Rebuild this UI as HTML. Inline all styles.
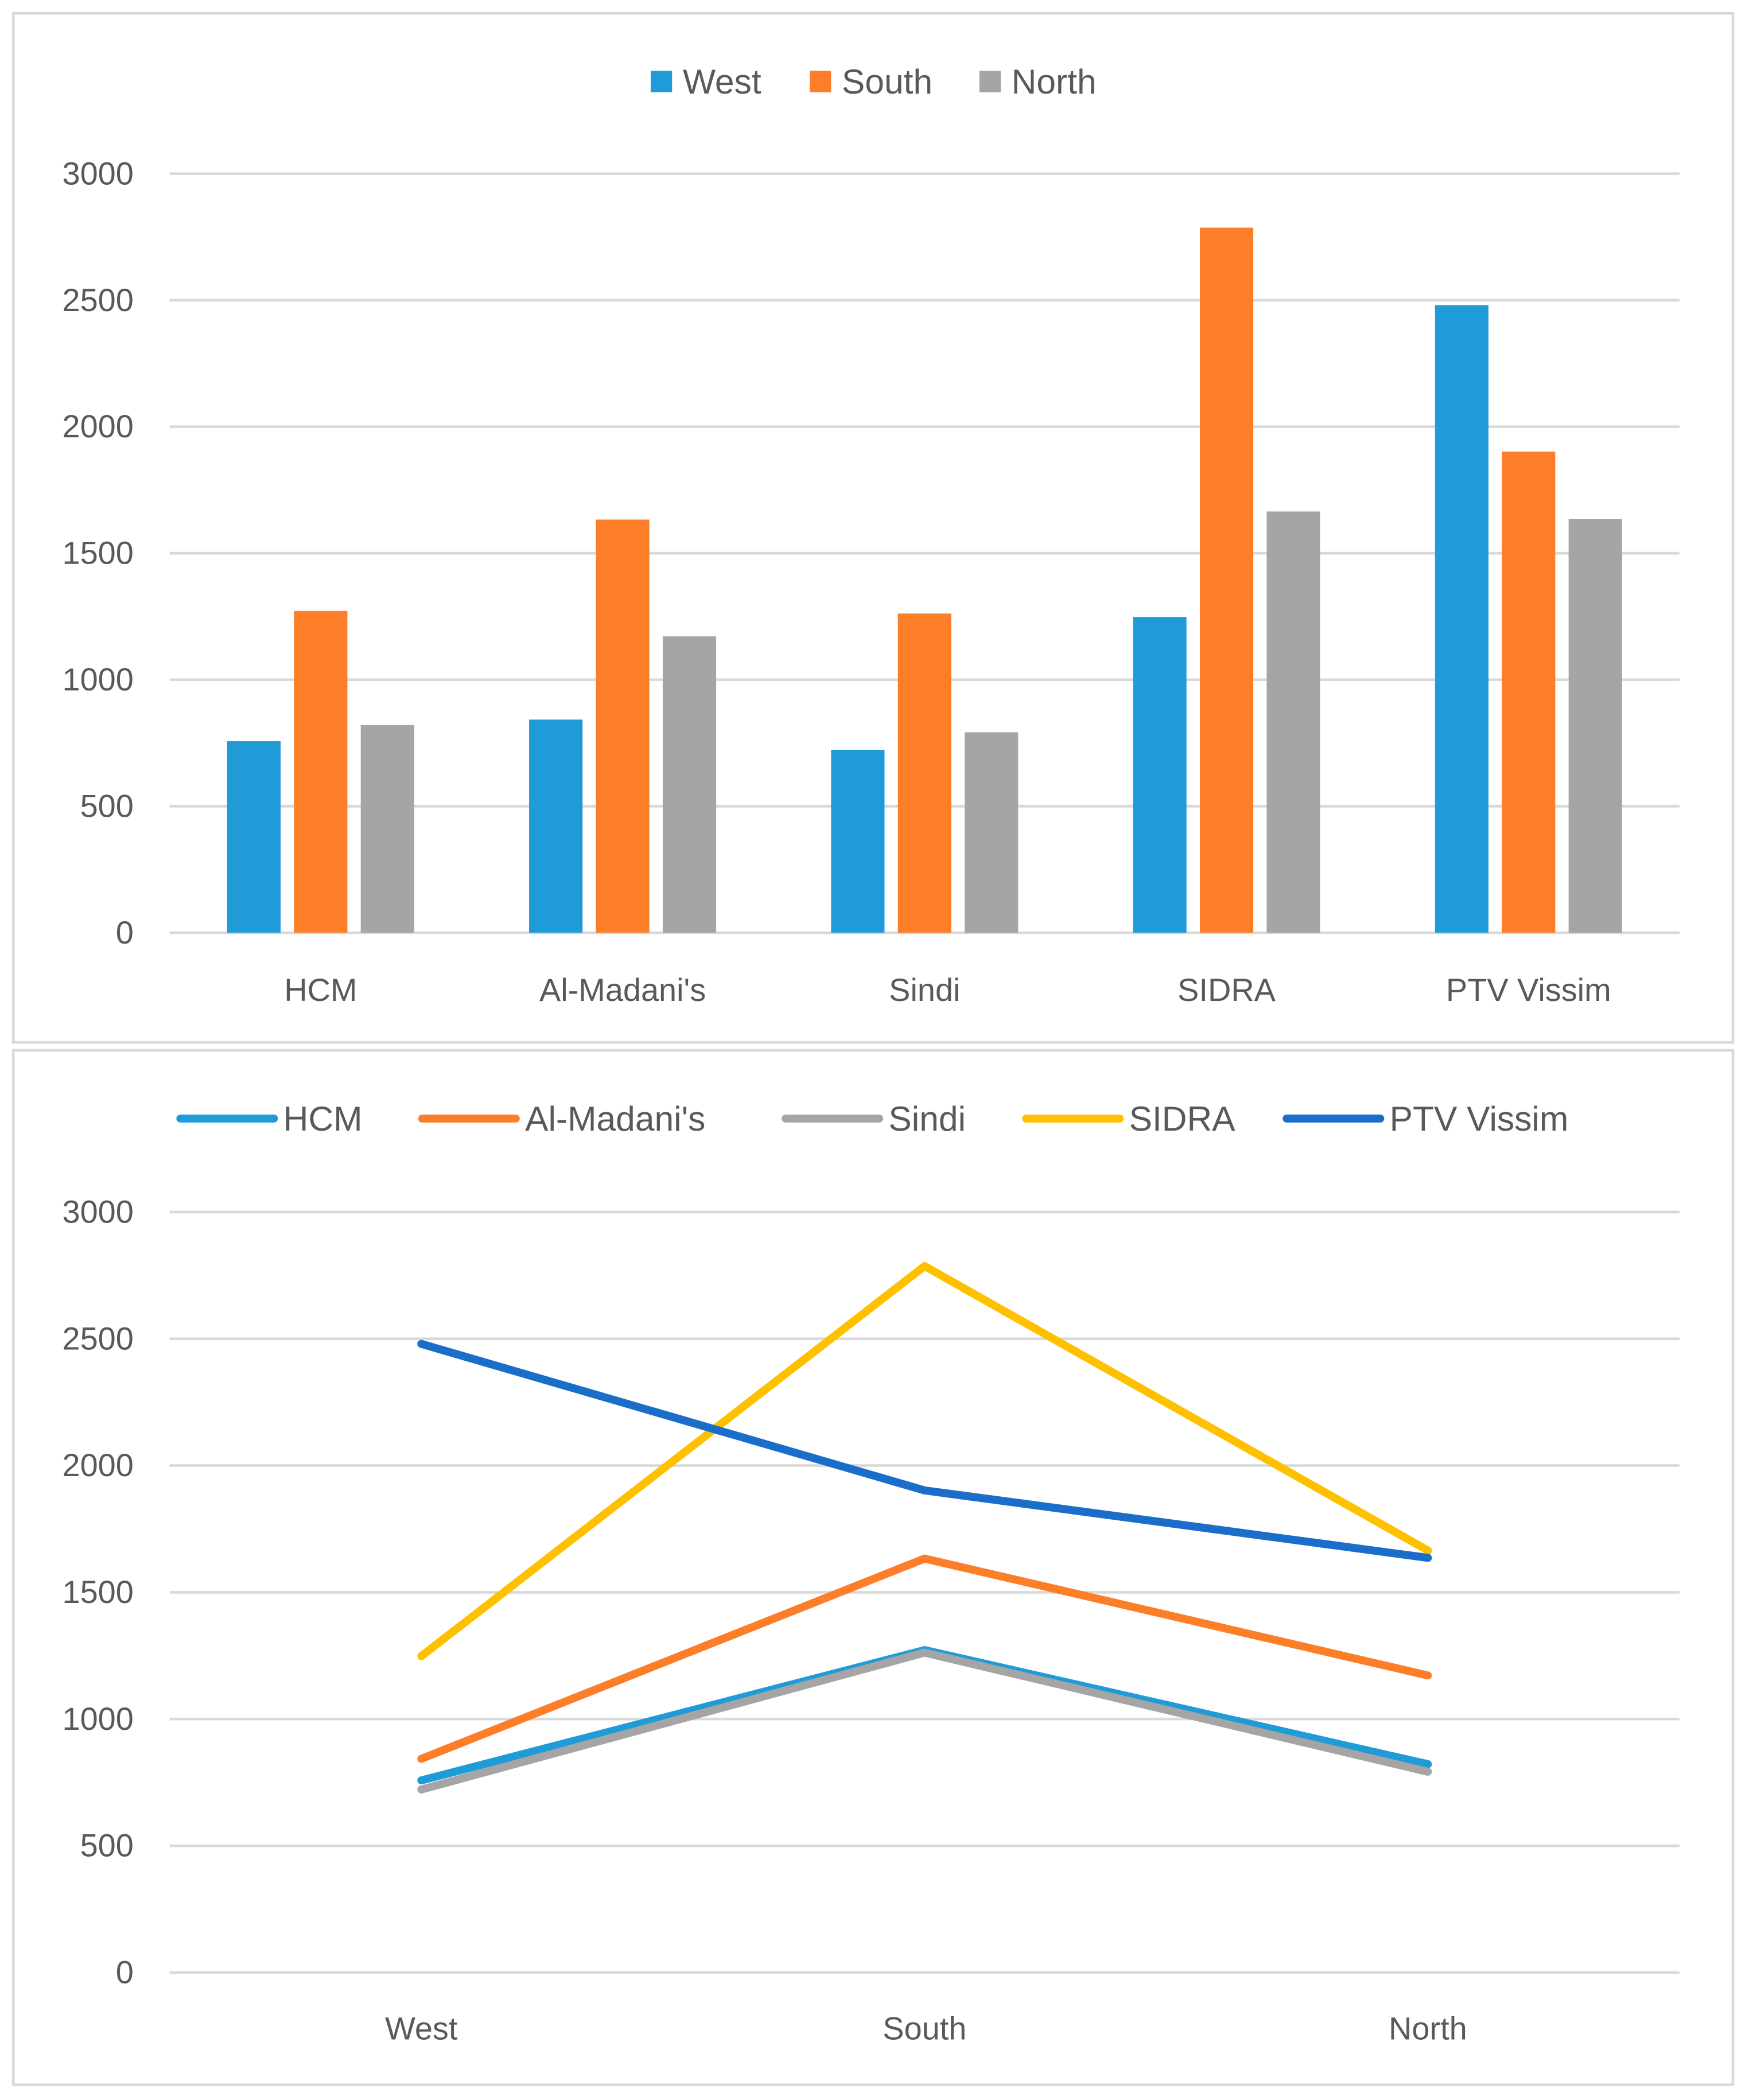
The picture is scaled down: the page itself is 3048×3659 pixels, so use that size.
<!DOCTYPE html>
<html><head><meta charset="utf-8"><style>
html,body{margin:0;padding:0;background:#fff}
svg{display:block}
text{font-family:"Liberation Sans",sans-serif;fill:#595959}
</style></head><body>
<svg id="svg" width="3048" height="3659" viewBox="0 0 1309 1571.4" preserveAspectRatio="none" xmlns="http://www.w3.org/2000/svg">
<rect x="10" y="10" width="1287" height="770" fill="#fff" stroke="#d9d9d9" stroke-width="2"/>
<rect x="10" y="786" width="1287" height="774" fill="#fff" stroke="#d9d9d9" stroke-width="2"/>
<g id="bar"></g><g id="line"></g>
</svg>
<script>
const methods = ["HCM","Al-Madani's","Sindi","SIDRA","PTV Vissim"];
const approaches = ["West","South","North"];
const westVals = [758,843,722,1248,2480];
const southVals = [1272,1633,1262,2787,1902];
const northVals = [822,1172,792,1665,1636];
const yTicks = [0,500,1000,1500,2000,2500,3000];
const barColors = ["#1f9bd7","#fd7e29","#a5a5a5"];
const lineColors = ["#1f9bd7","#fd7e29","#a5a5a5","#ffc000","#1a6ec9"];

const NS="http://www.w3.org/2000/svg";
function mk(parent,tag,attrs,txt){const e=document.createElementNS(NS,tag);for(const k in attrs)e.setAttribute(k,attrs[k]);if(txt!==undefined)e.textContent=txt;parent.appendChild(e);return e;}
const series=[westVals,southVals,northVals];
const x0=127,x1=1257;

// BAR CHART
const bg=document.getElementById('bar');
const yB=v=>698-(v/3000)*568;
yTicks.forEach(t=>{
  const l=mk(bg,'line',{x1:x0,x2:x1,y1:yB(t),y2:yB(t),stroke:'#d9d9d9','stroke-width':2});
  
  
  const tx=mk(bg,'text',{x:100,y:yB(t)+8,'text-anchor':'end','font-size':24},t);
  
  
});
const bw=(x1-x0)/methods.length;
methods.forEach((m,i)=>{
  const c=x0+bw*(i+0.5);
  series.forEach((s,j)=>{
    const r=mk(bg,'rect',{x:c+(j-1)*50-20,y:yB(s[i]),width:40,height:yB(0)-yB(s[i]),fill:barColors[j]});
    
    
  });
  const tx=mk(bg,'text',{x:c,y:749,'text-anchor':'middle','font-size':24},m);
  
  
});
const legX=[487,606,733];
approaches.forEach((a,j)=>{
  const r=mk(bg,'rect',{x:legX[j],y:53,width:16,height:16,fill:barColors[j]});
  
  
  const tx=mk(bg,'text',{x:legX[j]+24,y:70,'font-size':26},a);
  
  
});

// LINE CHART
const lg=document.getElementById('line');
const yL=v=>1476-(v/3000)*569;
yTicks.forEach(t=>{
  const l=mk(lg,'line',{x1:x0,x2:x1,y1:yL(t),y2:yL(t),stroke:'#d9d9d9','stroke-width':2});
  
  
  const tx=mk(lg,'text',{x:100,y:yL(t)+8,'text-anchor':'end','font-size':24},t);
  
  
});
const lw=(x1-x0)/approaches.length;
const xL=j=>x0+lw*(j+0.5);
approaches.forEach((a,j)=>{
  const tx=mk(lg,'text',{x:xL(j),y:1526,'text-anchor':'middle','font-size':24},a);
  
  
});
methods.forEach((m,i)=>{
  const pts=series.map((s,j)=>xL(j)+','+yL(s[i])).join(' ');
  const p=mk(lg,'polyline',{points:pts,fill:'none',stroke:lineColors[i],'stroke-width':6,'stroke-linejoin':'round','stroke-linecap':'round'});
  
  
});
const legLX=[135,316,588,768,963];
methods.forEach((m,i)=>{
  const l=mk(lg,'line',{x1:legLX[i],x2:legLX[i]+70,y1:837,y2:837,stroke:lineColors[i],'stroke-width':6,'stroke-linecap':'round'});
  
  
  const tx=mk(lg,'text',{x:legLX[i]+77,y:846,'font-size':26},m);
  
  
});
</script>
</body></html>
